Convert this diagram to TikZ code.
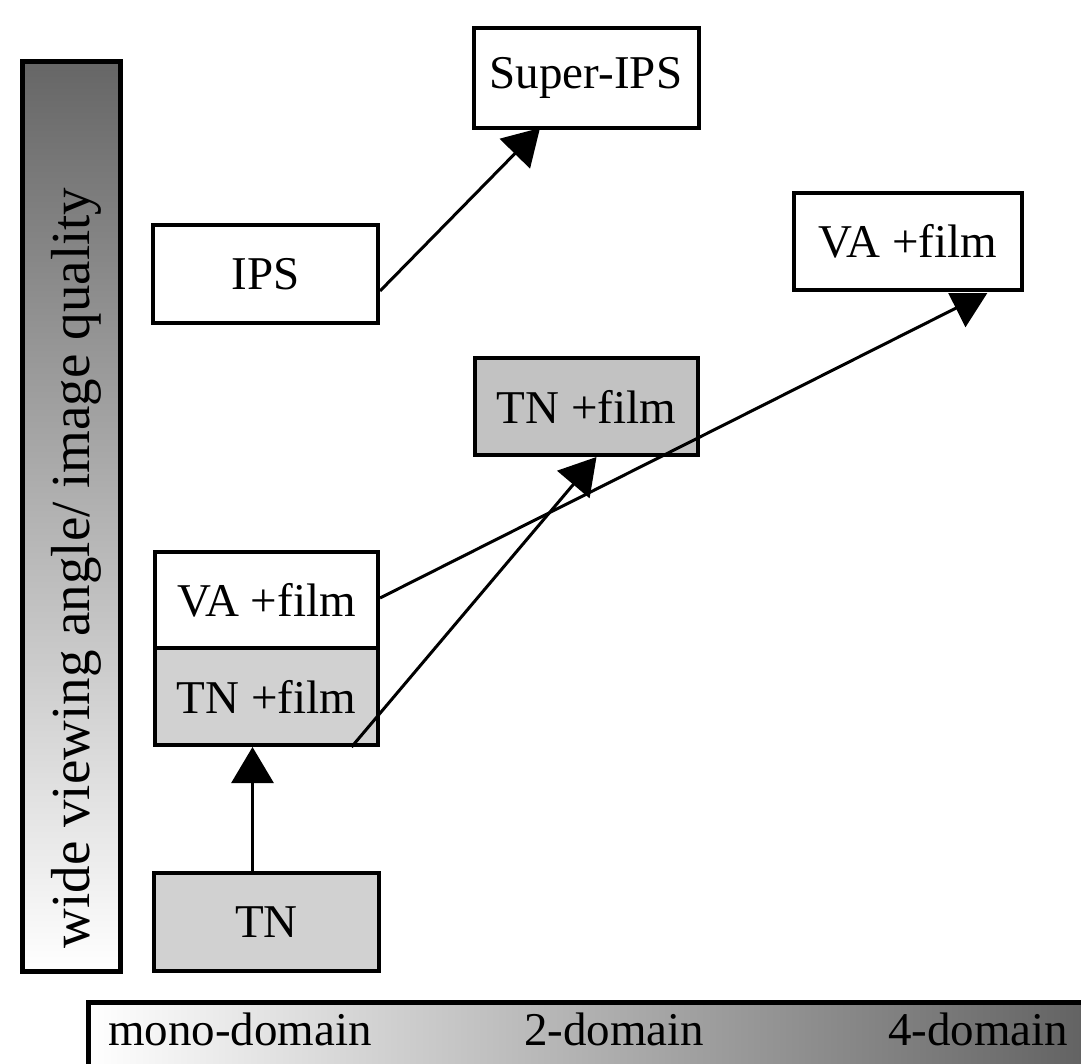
\documentclass[tikz,border=0pt]{standalone}
\usepackage{fontspec}
\setmainfont{Liberation Serif}
\usetikzlibrary{arrows.meta}
\definecolor{boxgray}{gray}{0.82}
\definecolor{boxgraydk}{gray}{0.76}
\tikzset{
  box/.style={draw=black, line width=4pt, fill=white, rectangle, inner sep=0pt,
    font=\fontsize{47}{56}\selectfont},
  graybox/.style={box, fill=boxgray},
  arr/.style={draw=black, line width=3pt, -{Triangle[length=36pt,width=42pt]}},
  bar/.style={draw=black, line width=5pt}
}
\begin{document}
\begin{tikzpicture}[x=1pt,y=-1pt]
\useasboundingbox (0,0) rectangle (1081,1064);
% vertical bar
\shade[top color=black!60, bottom color=white] (22,62) rectangle (120,971);
\draw[bar] (22,62) rectangle (120,971);
\node[rotate=90, font=\fontsize{55}{62}\selectfont, inner sep=0pt] (yl) at (76,568) {wide viewing angle/ image quality};
% bottom bar
\shade[left color=white, right color=black!62] (88,1002) rectangle (1095,1080);
\draw[bar] (88,1080) -- (88,1002) -- (1095,1002);
\node[anchor=base west, font=\fontsize{47}{56}\selectfont, inner sep=0pt] (mono) at (108,1045) {mono-domain};
\node[anchor=base west, font=\fontsize{47}{56}\selectfont, inner sep=0pt] (two) at (524,1045) {2-domain};
\node[anchor=base west, font=\fontsize{47}{56}\selectfont, inner sep=0pt] (four) at (888,1045) {4-domain};
% boxes
\node[box, minimum width=225pt, minimum height=100pt] (sips) at (586,78) {Super-IPS};
\node[box, minimum width=225pt, minimum height=98pt] (ips) at (265.5,274) {IPS};
\node[box, minimum width=228pt, minimum height=97pt] (va2) at (908,241.5) {VA +film};
\node[graybox, fill=boxgraydk, minimum width=223pt, minimum height=97pt] (tnf2) at (586.5,406.5) {TN +film};
\node[box, minimum width=223pt, minimum height=96pt] (va1) at (266.5,600) {VA +film};
\node[graybox, minimum width=223pt, minimum height=97pt] (tnf1) at (266.5,696.5) {TN +film};
\node[graybox, minimum width=225pt, minimum height=98pt] (tn) at (266.5,922) {TN};
% connectors
\begin{scope}
\clip ([yshift=-2pt]va2.south -| 0,0) rectangle (1081,1064);
\draw[arr] ([yshift=2pt]va1.east) -- ([xshift=80pt]va2.south);
\end{scope}
\draw[arr] ([xshift=-14pt]tn.north) -- ([xshift=-14pt]tnf1.south);
\draw[arr] ([yshift=-17pt]ips.east) -- ([xshift=-46pt,yshift=2pt]sips.south);
\draw[arr] ([xshift=85pt]tnf1.south) -- ([xshift=10pt]tnf2.south);
\end{tikzpicture}
\end{document}
